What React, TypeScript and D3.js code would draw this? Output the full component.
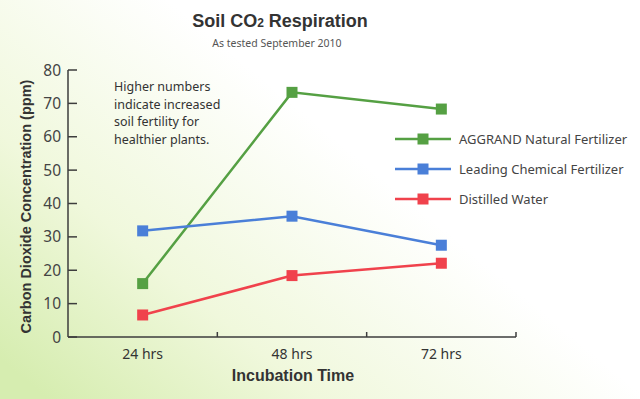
import React, { useEffect, useRef } from 'react';
import * as d3 from 'd3';

const CATEGORIES = ['24 hrs', '48 hrs', '72 hrs'];
const Y_TICKS = [0, 10, 20, 30, 40, 50, 60, 70, 80];
const SERIES_NAMES = ['AGGRAND Natural Fertilizer', 'Leading Chemical Fertilizer', 'Distilled Water'];
const AGGRAND = [16, 73.3, 68.3];
const CHEMICAL = [31.8, 36.2, 27.5];
const WATER = [6.6, 18.4, 22.1];
const NOTE = ['Higher numbers', 'indicate increased', 'soil fertility for', 'healthier plants.'];

const COLORS = ['#55a043', '#4a7fd8', '#f0424c'];

const App: React.FC = () => {
  const svgRef = useRef<SVGSVGElement>(null);

  useEffect(() => {
    if (!svgRef.current) return;
    const width = 640;
    const height = 399;
    const svg = d3.select(svgRef.current).attr('viewBox', `0 0 ${width} ${height}`).html('');

    // background wash
    const defs = svg.append('defs');
    const grad = defs.append('linearGradient').attr('id', 'bg')
      .attr('x1', '0').attr('y1', '0.9').attr('x2', '0.6').attr('y2', '0.45');
    grad.append('stop').attr('offset', '0').attr('stop-color', '#d6edb0');
    grad.append('stop').attr('offset', '0.45').attr('stop-color', '#f0f8dc');
    grad.append('stop').attr('offset', '1').attr('stop-color', '#ffffff');
    svg.append('rect').attr('width', width).attr('height', height).attr('fill', 'url(#bg)');

    const left = 68, right = 516, top = 70, bottom = 337;
    const x = d3.scaleBand<string>().domain(CATEGORIES).range([left, right]);
    const y = d3.scaleLinear().domain([0, 80]).range([bottom, top]);

    const axisColor = '#3d3d3d';
    const font = '"Noto Sans", sans-serif';
    const bold = '"Liberation Sans", Arial, sans-serif';

    // title
    const title = svg.append('text').attr('x', 280).attr('y', 27).attr('text-anchor', 'middle')
      .attr('font-family', bold).attr('font-weight', 'bold')
      .attr('font-size', 18).attr('fill', '#333');
    title.append('tspan').text('Soil CO');
    title.append('tspan').attr('font-size', 12).text('2');
    title.append('tspan').text(' Respiration');
    svg.append('text').attr('x', 277).attr('y', 47).attr('text-anchor', 'middle')
      .attr('font-family', font).attr('font-size', 10.5).attr('fill', '#555')
      .text('As tested September 2010');

    // axes
    const g = svg.append('g').attr('stroke', axisColor).attr('stroke-width', 1.5);
    g.append('line').attr('x1', left).attr('x2', left).attr('y1', top).attr('y2', bottom);
    g.append('line').attr('x1', left).attr('x2', right).attr('y1', bottom).attr('y2', bottom);
    Y_TICKS.forEach(t => {
      g.append('line').attr('x1', left).attr('x2', left + 9).attr('y1', y(t)).attr('y2', y(t));
    });
    CATEGORIES.forEach(c => {
      const xe = (x(c) as number) + x.bandwidth();
      g.append('line').attr('x1', xe).attr('x2', xe).attr('y1', bottom).attr('y2', bottom - 5);
    });

    svg.selectAll('.ytick').data(Y_TICKS).enter().append('text')
      .attr('x', left - 7).attr('y', d => y(d) + 5.5).attr('text-anchor', 'end')
      .attr('font-family', font).attr('font-size', 15.5).attr('fill', '#444')
      .text(d => d);
    svg.selectAll('.xtick').data(CATEGORIES).enter().append('text')
      .attr('x', d => (x(d) as number) + x.bandwidth() / 2).attr('y', 359).attr('text-anchor', 'middle')
      .attr('font-family', font).attr('font-size', 14).attr('fill', '#333')
      .text(d => d);

    svg.append('text').attr('x', 293).attr('y', 381).attr('text-anchor', 'middle')
      .attr('font-family', bold).attr('font-weight', 'bold')
      .attr('font-size', 16).attr('fill', '#333').text('Incubation Time');
    svg.append('text').attr('transform', `translate(31, ${(top + bottom) / 2 + 3}) rotate(-90)`)
      .attr('text-anchor', 'middle')
      .attr('font-family', bold).attr('font-weight', 'bold')
      .attr('font-size', 14.5).attr('fill', '#333').text('Carbon Dioxide Concentration (ppm)');

    // note
    svg.selectAll('.note').data(NOTE).enter().append('text')
      .attr('x', 114).attr('y', (d, i) => 91 + i * 17.5)
      .attr('font-family', font).attr('font-size', 12.5).attr('fill', '#333')
      .text(d => d);

    // series
    const series = [AGGRAND, CHEMICAL, WATER];
    const line = d3.line<number>()
      .x((d, i) => (x(CATEGORIES[i]) as number) + x.bandwidth() / 2)
      .y(d => y(d));
    series.forEach((vals, si) => {
      svg.append('path').attr('d', line(vals)).attr('fill', 'none')
        .attr('stroke', COLORS[si]).attr('stroke-width', 2.5);
      vals.forEach((v, i) => {
        const cx = (x(CATEGORIES[i]) as number) + x.bandwidth() / 2;
        svg.append('rect').attr('x', cx - 5.5).attr('y', y(v) - 5.5)
          .attr('width', 11).attr('height', 11).attr('fill', COLORS[si]);
      });
    });

    // legend
    SERIES_NAMES.forEach((name, i) => {
      const ly = 139 + i * 30;
      svg.append('line').attr('x1', 395).attr('x2', 451).attr('y1', ly).attr('y2', ly)
        .attr('stroke', COLORS[i]).attr('stroke-width', 2.5);
      svg.append('rect').attr('x', 423 - 5.5).attr('y', ly - 5.5).attr('width', 11).attr('height', 11)
        .attr('fill', COLORS[i]);
      svg.append('text').attr('x', 459).attr('y', ly + 5)
        .attr('font-family', font).attr('font-size', 13).attr('fill', '#444')
        .text(name);
    });
  }, []);

  return (
    <svg ref={svgRef} width={640} height={399}
      style={{ position: 'absolute', left: 0, top: 0, display: 'block' }} />
  );
};

export default App;
